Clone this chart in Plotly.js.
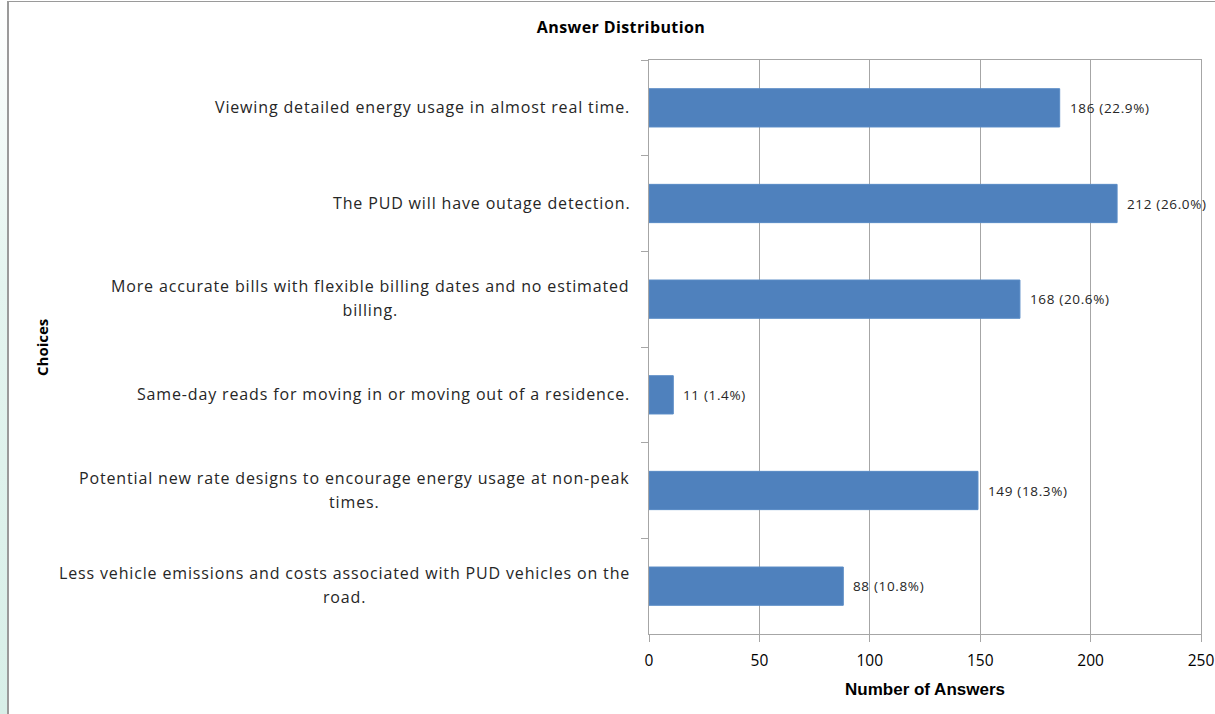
<!DOCTYPE html>
<html>
<head>
<meta charset="utf-8">
<script src="https://cdn.plot.ly/plotly-3.0.1.min.js"></script>
<style>
html,body{margin:0;padding:0;background:#fff;}
#wrap{position:relative;width:1215px;height:714px;overflow:hidden;}
#strip{position:absolute;left:0;top:0;width:7px;height:714px;background:linear-gradient(#ffffff,#e4f4ef 40%,#d8efe8);}
#frame{position:absolute;left:7px;top:1px;width:1208px;height:713px;border-left:2px solid #9a9a9a;border-top:1px solid #9a9a9a;box-sizing:border-box;}
#chart{position:absolute;left:0;top:0;width:1215px;height:714px;}
</style>
</head>
<body>
<div id="wrap">
<div id="strip"></div>
<div id="frame"></div>
<div id="chart"></div>
</div>
<script>
var categories = [
  "Viewing detailed energy usage in almost real time.",
  "The PUD will have outage detection.",
  "More accurate bills with flexible billing dates and no estimated<br>billing.",
  "Same-day reads for moving in or moving out of a residence.",
  "Potential new rate designs to encourage energy usage at non-peak<br>times.",
  "Less vehicle emissions and costs associated with PUD vehicles on the<br>road."
];
var counts = [186, 212, 168, 11, 149, 88];
var percents = ["22.9", "26.0", "20.6", "1.4", "18.3", "10.8"];
var xTickVals = [0, 50, 100, 150, 200, 250];

var gridColor = "#a6a6a6";
var textColor = "#262626";
var FONT = "Open Sans, sans-serif";
var catSpan = '<span style="font-size:16px;letter-spacing:0.85px">';
var valSpan = '<span style="letter-spacing:0.65px">';

var trace = {
  type: "bar",
  orientation: "h",
  x: counts,
  y: categories,
  width: 0.4,
  marker: {color: "#4f81bd", line: {color: "#5a8cc6", width: 1}},
  hoverinfo: "none"
};

var annotations = [];
categories.forEach(function(c, i) {
  annotations.push({
    x: 0, xref: "paper", y: c, yref: "y",
    text: catSpan + c.split("<br>").join('</span><br>' + catSpan) + '</span>',
    showarrow: false, xanchor: "right", yanchor: "middle",
    xshift: -17, align: "center", yshift: 1,
    font: {family: FONT, size: 18.5, color: textColor}
  });
  annotations.push({
    x: counts[i], xref: "x", y: c, yref: "y",
    text: valSpan + counts[i] + " (" + percents[i] + "%)</span>", showarrow: false,
    xanchor: "left", yanchor: "middle", xshift: 8,
    font: {family: FONT, size: 13.5, color: textColor}
  });
});
annotations.push({
  x: (42 - 649) / 552, xref: "paper", y: 0.5, yref: "paper",
  text: "<b>Choices</b>", showarrow: false, textangle: -90,
  xanchor: "center", yanchor: "middle",
  font: {family: FONT, size: 15, color: "#000"}
});

var layout = {
  width: 1215, height: 714,
  margin: {l: 649, r: 14, t: 60, b: 80},
  paper_bgcolor: "rgba(0,0,0,0)",
  plot_bgcolor: "#fff",
  showlegend: false,
  title: {
    text: '<b><span style="letter-spacing:0.4px">Answer Distribution</span></b>',
    x: 621 / 1215, xref: "container", xanchor: "center",
    y: 1 - 27 / 714, yref: "container", yanchor: "middle",
    font: {family: FONT, size: 16, color: "#000"}
  },
  xaxis: {
    range: [0, 250],
    tickvals: xTickVals,
    ticktext: xTickVals.map(String),
    showgrid: true, gridcolor: gridColor, gridwidth: 1,
    zeroline: false,
    showline: true, linecolor: gridColor, linewidth: 1, mirror: true,
    ticks: "outside", ticklen: 7, tickcolor: gridColor,
    ticklabelstandoff: 5,
    tickfont: {family: FONT, size: 15.5, color: "#000"},
    title: {
      text: "<b>Number of Answers</b>", standoff: 13,
      font: {family: "Liberation Sans Narrow, Liberation Sans, Arial, sans-serif", size: 17, color: "#000"}
    },
    fixedrange: true
  },
  yaxis: {
    type: "category",
    autorange: "reversed",
    showticklabels: false,
    tickson: "boundaries",
    ticks: "outside", ticklen: 7, tickcolor: gridColor,
    showgrid: false, zeroline: false,
    showline: true, linecolor: gridColor, linewidth: 1, mirror: true,
    fixedrange: true
  },
  annotations: annotations
};

Plotly.newPlot("chart", [trace], layout, {displayModeBar: false, staticPlot: true});
</script>
</body>
</html>
